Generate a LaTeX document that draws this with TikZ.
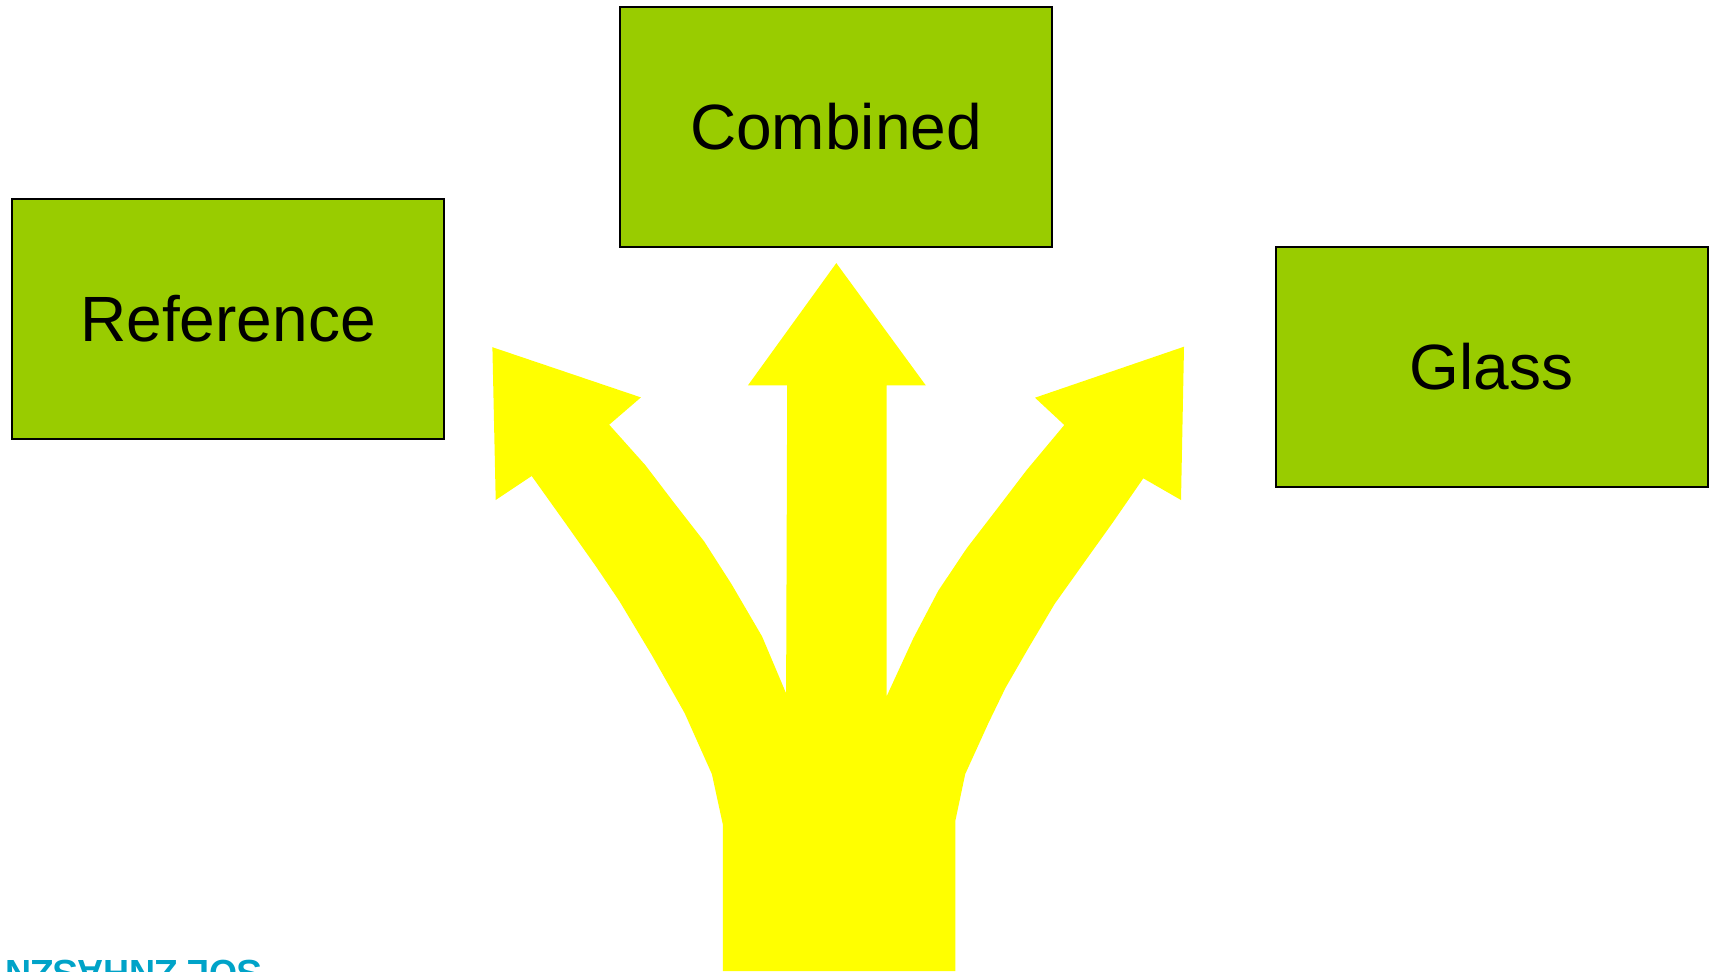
\documentclass[tikz,border=0pt]{standalone}
\usepackage{fontspec}
\setmainfont{Liberation Sans}
\definecolor{boxgreen}{HTML}{99CC00}
\definecolor{arrowyellow}{HTML}{FFFF00}
\definecolor{logocyan}{HTML}{00A3C8}
\tikzset{
  box/.style={draw=black, line width=1pt, fill=boxgreen, minimum width=216pt, minimum height=120pt, inner sep=0pt, font=\fontsize{32}{38}\selectfont, text=black},
  bigarrow/.style={fill=arrowyellow, draw=none},
  logotext/.style={rotate=180, anchor=base west, inner sep=0pt, text=logocyan, font=\bfseries\fontsize{18}{22}\selectfont}
}
\begin{document}
\begin{tikzpicture}[x=0.5pt, y=-0.5pt]
\useasboundingbox (0,0) rectangle (1712,971);
\clip (0,0) rectangle (1712,971);
\fill[white] (0,0) rectangle (1712,971);

% three-way arrow
\fill[bigarrow] (722.8,971) -- (722.8,824.3) -- (711.9,774.1) -- (684.6,713.0) -- (651.8,655.1) -- (619.0,600.5) -- (596.1,566.6) -- (564.5,521.9) -- (531.7,476.0) -- (495.7,500.0) -- (492.4,347.2) -- (640.9,397.4) -- (609.2,424.7) -- (645.3,465.1) -- (673.6,502.2) -- (704.2,541.5) -- (731.5,584.1) -- (762.1,636.5) -- (786.1,693.3) -- (787.2,385.4) -- (747.9,385.4) -- (836.3,263.1) -- (925.8,385.4) -- (886.5,385.4) -- (886.5,696.6) -- (913.3,638.3) -- (938.3,590.7) -- (966.7,548.3) -- (1000,505) -- (1026.7,470) -- (1064.3,425) -- (1035,397.7) -- (1184,346.7) -- (1181,500) -- (1143.3,478.3) -- (1113.3,521.7) -- (1080,568.3) -- (1054.7,603.8) -- (1028.3,648.3) -- (1005.5,687.8) -- (988.3,723.3) -- (965.2,774.1) -- (955.3,821.0) -- (955.3,971) -- cycle;

% boxes
\node[box] (reference) at (228,318.5) {Reference};
\node[box] (combined) at (836,127) {Combined};
\node[box] (glass) at (1491.5,367) {Glass};

% cut-off logo fragment
\node[logotext] (logo) at (262,960) {SOL ZNHASZN};
\end{tikzpicture}
\end{document}
